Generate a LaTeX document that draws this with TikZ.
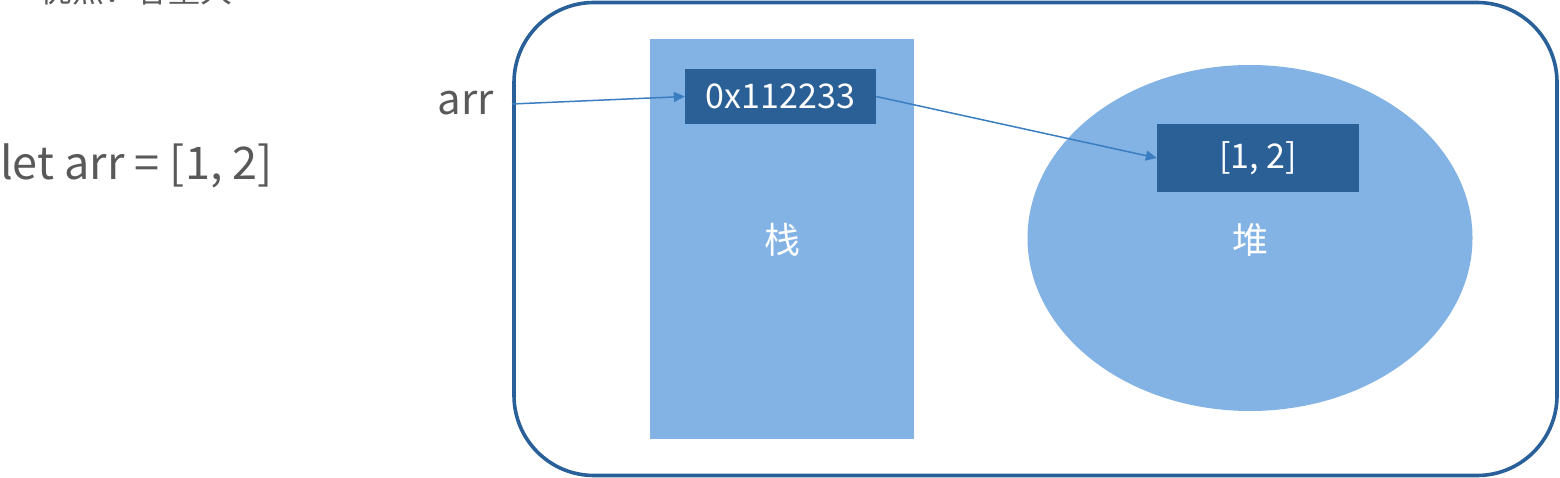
\documentclass[tikz,border=0pt]{standalone}
\usepackage{fontspec}
\setmainfont{Noto Sans CJK SC}
\usetikzlibrary{arrows.meta,shapes.geometric}
\definecolor{frame}{HTML}{2A6099}
\definecolor{light}{HTML}{83B3E4}
\definecolor{dark}{HTML}{2A6096}
\definecolor{arrowc}{HTML}{3A7EC1}
\definecolor{txt}{HTML}{595959}
\tikzset{
  darkbox/.style={fill=dark,draw=none,text=white,inner sep=0pt},
  conn/.style={draw=arrowc,line width=1.5pt,-{Triangle[length=11pt,width=10pt]}},
  graytxt/.style={text=txt,inner sep=0pt},
}
\begin{document}
\begin{tikzpicture}[x=1pt,y=-1pt]
\useasboundingbox (0,0) rectangle (1560,478);
\clip (0,0) rectangle (1560,478);
% cut-off top text
\node[graytxt,anchor=base west,font=\fontsize{32}{36}\selectfont] (top) at (40,3) {优点：容量大};
% left code
\node[graytxt,anchor=west,font=\fontsize{45}{50}\selectfont] (code) at (0,166) {let arr = [1, 2]};
% frame
\draw[frame,line width=3.6pt,rounded corners=80pt] (514,2.5) rectangle (1557,475.5);
% stack
\fill[light] (650,39) rectangle (914,439);
\node[text=white,font=\fontsize{36}{40}\selectfont] (stack) at (782,240) {栈};
% heap
\node[ellipse,fill=light,draw=none,minimum width=445pt,minimum height=346pt,inner sep=0pt] (heap) at (1250,238) {};
\node[text=white,font=\fontsize{36}{40}\selectfont] (heaplbl) at (1250,240) {堆};
% boxes
\node[darkbox,minimum width=191pt,minimum height=55pt,font=\fontsize{34}{38}\selectfont] (addr) at (780.5,96.5) {0x112233};
\node[darkbox,minimum width=202pt,minimum height=68pt,font=\fontsize{34}{38}\selectfont] (val) at (1258,158) {[1, 2]};
% arr label
\node[graytxt,anchor=east,font=\fontsize{42}{46}\selectfont] (arr) at (494,103) {arr};
\coordinate (arrend) at (512,104);
% connectors
\draw[conn] (arrend) -- (addr.west);
\draw[conn] (addr.east) -- (val.west);
\end{tikzpicture}
\end{document}
